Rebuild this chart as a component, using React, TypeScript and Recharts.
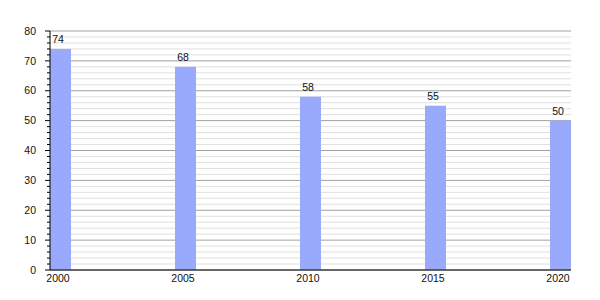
import { ComposedChart, Bar, XAxis, YAxis, CartesianGrid, LabelList } from 'recharts';

const years = [2000, 2005, 2010, 2015, 2020];
const values = [74, 68, 58, 55, 50];
const xTicks = [2000, 2005, 2010, 2015, 2020];
const yTicks = [
  0, 2, 4, 6, 8, 10, 12, 14, 16, 18, 20, 22, 24, 26, 28, 30, 32, 34, 36, 38, 40,
  42, 44, 46, 48, 50, 52, 54, 56, 58, 60, 62, 64, 66, 68, 70, 72, 74, 76, 78, 80,
];

const data = years.map((year, i) => ({ year, value: values[i] }));

const font = '"Liberation Sans", Arial, sans-serif';

// bars start at the year and run to the right, so shift recharts' centred bar
const BarShape = (props: any) => {
  const { x, y, width, height } = props;
  return <rect x={x + width / 2} y={y} width={width} height={height} fill="#99aafd" />;
};

const BarLabel = (props: any) => {
  const { x, y, width, value } = props;
  return (
    <text x={x + width / 2 + 8} y={y - 6} textAnchor="middle" fontSize={10.5} fontFamily={font} fill="#111">
      {value}
    </text>
  );
};

const XTick = (props: any) => {
  const { x, y, payload } = props;
  return (
    <text x={x + 8} y={y + 12} textAnchor="middle" fontSize={10.5} fontFamily={font} fill="#111">
      {payload.value}
    </text>
  );
};

const YTick = (props: any) => {
  const { x, y, payload } = props;
  const major = payload.value % 10 === 0;
  return (
    <g>
      <line x1={x - (major ? 5 : 3)} x2={x} y1={y} y2={y} stroke="#000" />
      {major && (
        <text x={x - 14} y={y} dy="0.35em" textAnchor="end" fontSize={10.5} fontFamily={font} fill="#111">
          {payload.value}
        </text>
      )}
    </g>
  );
};

const GridLine = (p: any) => {
  const major = p.index % 5 === 0;
  return (
    <line
      key={`h-${p.index}`}
      x1={p.x1}
      x2={p.x2}
      y1={p.y1}
      y2={p.y2}
      stroke={major ? '#a0a0a0' : '#e0e0e0'}
      strokeWidth={1}
    />
  );
};

export default function App() {
  return (
    <div style={{ position: 'absolute', left: 0, top: 0, background: '#fff' }}>
      <ComposedChart width={600} height={300} data={data} margin={{ top: 31, right: 29, left: 0, bottom: 10 }}>
        <CartesianGrid vertical={false} horizontal={GridLine} />
        <XAxis
          type="number"
          dataKey="year"
          domain={[2000, 2020.84]}
          allowDataOverflow
          ticks={xTicks}
          interval={0}
          height={20}
          tickLine={false}
          tickSize={0}
          tickMargin={0}
          axisLine={{ stroke: '#000' }}
          tick={XTick}
        />
        <YAxis
          type="number"
          domain={[0, 80]}
          ticks={yTicks}
          interval={0}
          width={50}
          tickLine={false}
          tickSize={0}
          tickMargin={0}
          axisLine={{ stroke: '#000' }}
          tick={YTick}
        />
        <Bar dataKey="value" barSize={21} shape={BarShape} isAnimationActive={false}>
          <LabelList dataKey="value" content={BarLabel} />
        </Bar>
      </ComposedChart>
    </div>
  );
}
